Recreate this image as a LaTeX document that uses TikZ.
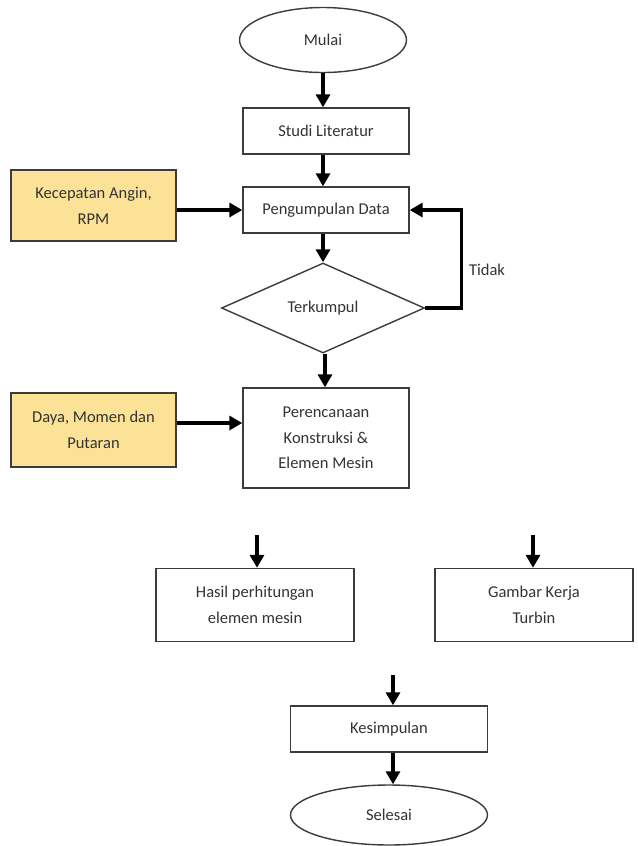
\documentclass[tikz,border=0pt]{standalone}
\usepackage{fontspec}
\setmainfont{Carlito}
\usetikzlibrary{arrows.meta,positioning,shapes.geometric}
\definecolor{fcyellow}{RGB}{252,226,150}
\definecolor{fcgray}{RGB}{60,60,60}

\begin{document}
\begin{tikzpicture}[x=0.02cm, y=-0.02cm, >={Triangle[length=0.26cm,width=0.28cm]},
  txt/.style={text=black!80, font=\fontsize{9.4}{14.6}\selectfont},
  box/.style={txt, draw=fcgray, line width=0.8pt, minimum width=3.32cm, minimum height=0.92cm, align=center},
  input/.style={box, fill=fcyellow, minimum width=3.3cm},
  term/.style={txt, draw=fcgray, line width=0.8pt, ellipse, inner sep=0pt},
  arr/.style={->, line width=1.9pt, black}]
  \useasboundingbox (0,0) rectangle (637,846);
  % main column
  \node[term, minimum width=3.34cm, minimum height=1.3cm] (mulai) at (323,40) {Mulai};
  \node[box] (studi) at (326,131) {Studi Literatur};
  \node[box] (kumpul) at (326,210) {Pengumpulan Data};
  \node[txt, draw=fcgray, line width=0.8pt, diamond, aspect=2.25, inner sep=0pt,
        minimum width=4.06cm, minimum height=1.8cm] (cek) at (323,308) {Terkumpul};
  \node[box, minimum height=2cm] (rencana) at (326,438) {Perencanaan\\Konstruksi \&\\Elemen Mesin};
  % inputs
  \node[input, minimum height=1.42cm] (angin) at (93.5,205.5) {Kecepatan Angin,\\RPM};
  \node[input, minimum height=1.48cm] (daya) at (93.5,430) {Daya, Momen dan\\Putaran};
  % results
  \node[box, minimum width=3.96cm, minimum height=1.46cm] (hasil) at (255,605) {Hasil perhitungan\\elemen mesin};
  \node[box, minimum width=3.96cm, minimum height=1.46cm] (gambar) at (534,605) {Gambar Kerja\\Turbin};
  \node[box, minimum width=3.94cm] (simpul) at (389,729) {Kesimpulan};
  \node[term, minimum width=3.94cm, minimum height=1.2cm] (selesai) at (389,815) {Selesai};
  \node[txt] (tidak) at (487,270) {Tidak};
  % free arrow starts
  \coordinate (hasilin) at (257,535);
  \coordinate (gambarin) at (533,535);
  \coordinate (simpulin) at (393,675);
  % arrows
  \draw[arr] (mulai.south) -- (mulai.south |- studi.north);
  \draw[arr] (mulai.south |- studi.south) -- (mulai.south |- kumpul.north);
  \draw[arr] (mulai.south |- kumpul.south) -- (cek.north);
  \draw[arr] ([xshift=0.04cm]cek.south) -- ([xshift=0.04cm]cek.south |- rencana.north);
  \draw[arr] (angin.east |- kumpul.west) -- (kumpul.west);
  \draw[arr] ([yshift=0.14cm]daya.east) -- ([yshift=0.14cm]daya.east -| rencana.west);
  \draw[arr] (cek.east) -- ++(36,0) |- (kumpul.east);
  \foreach \s/\t in {hasilin/hasil, gambarin/gambar, simpulin/simpul}
    \draw[arr] (\s) -- (\s |- \t.north);
  \draw[arr] (simpul.south -| simpulin) -- (simpulin |- selesai.north);
\end{tikzpicture}
\end{document}
